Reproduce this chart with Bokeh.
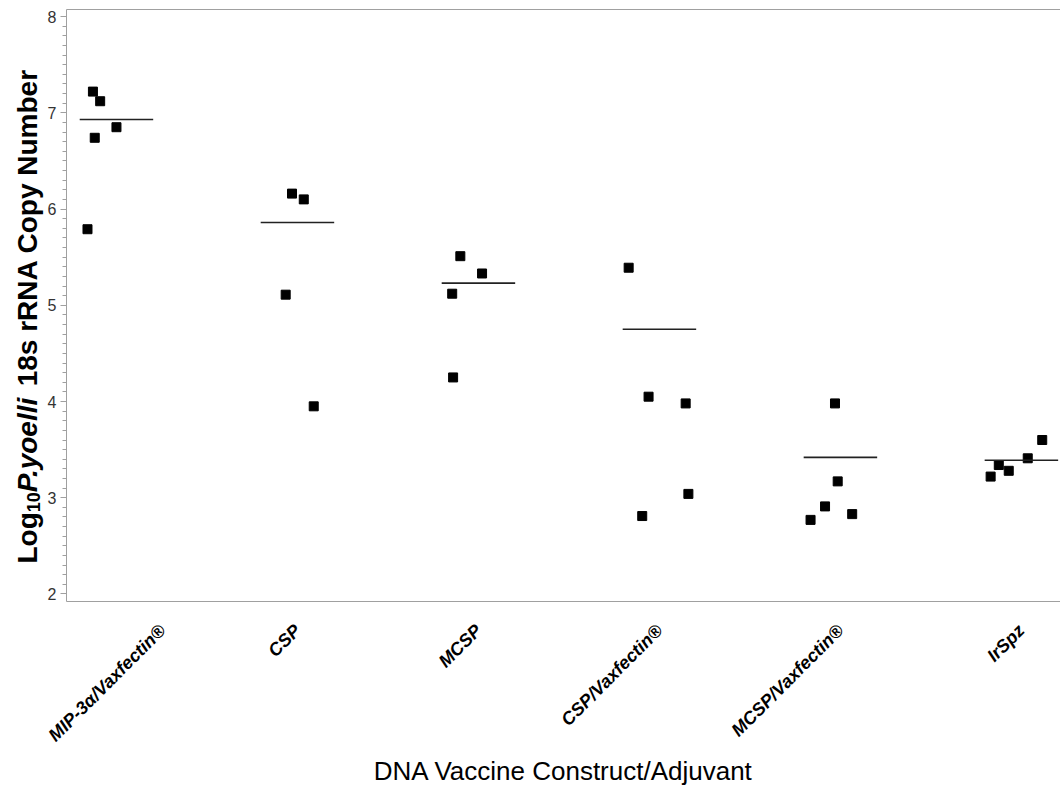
from math import pi
from bokeh.plotting import figure
from bokeh.layouts import row
from bokeh.models import Range1d, FixedTicker, SingleIntervalTicker, LinearAxis
from bokeh.core.properties import value
from bokeh.embed import file_html
from bokeh.resources import INLINE

# ---------------- data ----------------
categories = ["MIP-3\u03b1/Vaxfectin\u00ae", "CSP", "MCSP",
              "CSP/Vaxfectin\u00ae", "MCSP/Vaxfectin\u00ae", "IrSpz"]

mip_vals = [7.22, 7.12, 6.85, 6.74, 5.79]
csp_vals = [6.16, 6.10, 5.11, 3.95]
mcsp_vals = [5.51, 5.33, 5.12, 4.25]
cspv_vals = [5.39, 4.05, 3.98, 3.04, 2.81]
mcspv_vals = [3.98, 3.17, 2.91, 2.83, 2.77]
irspz_vals = [3.60, 3.41, 3.34, 3.28, 3.22]

# horizontal jitter of each point (category units)
mip_jit = [-0.13, -0.09, 0.00, -0.12, -0.16]
csp_jit = [-0.03, 0.035, -0.065, 0.09]
mcsp_jit = [-0.10, 0.02, -0.145, -0.14]
cspv_jit = [-0.17, -0.06, 0.145, 0.16, -0.095]
mcspv_jit = [-0.03, -0.015, -0.085, 0.065, -0.165]
irspz_jit = [0.115, 0.035, -0.125, -0.07, -0.17]

group_means = [6.93, 5.86, 5.23, 4.75, 3.42, 3.39]

x_title = "DNA Vaccine Construct/Adjuvant"
y_title_parts = ["Log", "10", "P.yoelli", "18s rRNA Copy Number"]

# ---------------- build ----------------
groups = [mip_vals, csp_vals, mcsp_vals, cspv_vals, mcspv_vals, irspz_vals]
jits = [mip_jit, csp_jit, mcsp_jit, cspv_jit, mcspv_jit, irspz_jit]
xs, ys = [], []
for i, (vals, jit) in enumerate(zip(groups, jits)):
    for v, j in zip(vals, jit):
        xs.append(i + j)
        ys.append(v)

TW = 44           # width of the strip holding the y title
W, H = 1060, 810
FL, FT = 66, 9
FH = 592
FB = H - FT - FH
X0, X1 = -0.276, 5.216
Y0, Y1 = 1.922, 8.073

GRAY = "#a0a0a0"

p = figure(width=W - TW, height=H, output_backend="svg", toolbar_location=None,
           x_range=Range1d(X0, X1), y_range=Range1d(Y0, Y1),
           x_axis_type=None, y_axis_type=None,
           min_border_left=FL - TW, min_border_right=0, min_border_top=FT,
           min_border_bottom=FB)
p.outline_line_color = None
p.xgrid.visible = False
p.ygrid.visible = False
p.background_fill_color = "white"
p.border_fill_color = "white"

# y axis
yax = LinearAxis(ticker=SingleIntervalTicker(interval=1, num_minor_ticks=10))
yax.axis_line_color = GRAY
yax.major_tick_line_color = GRAY
yax.minor_tick_line_color = GRAY
yax.major_tick_out = 6
yax.major_tick_in = 0
yax.minor_tick_out = 4
yax.minor_tick_in = 0
yax.major_label_text_font = "Liberation Sans"
yax.major_label_text_font_size = "16px"
yax.major_label_text_color = "#333333"
yax.major_label_standoff = 4
p.add_layout(yax, "left")

# x axis
xax = LinearAxis(ticker=FixedTicker(ticks=list(range(len(categories)))))
xax.major_label_overrides = {i: c for i, c in enumerate(categories)}
xax.major_label_orientation = pi / 4
xax.axis_line_color = GRAY
xax.major_tick_line_color = None
xax.major_tick_out = 0
xax.major_tick_in = 0
xax.minor_tick_line_color = None
xax.major_label_text_font = "Liberation Sans"
xax.major_label_text_font_size = "18px"
xax.major_label_text_font_style = "bold italic"
xax.major_label_text_color = "black"
xax.major_label_standoff = 26
xax.axis_label = x_title
xax.axis_label_text_font = "Liberation Sans"
xax.axis_label_text_font_size = "26px"
xax.axis_label_text_font_style = "normal"
xax.axis_label_text_color = "black"
xax.axis_label_standoff = 0
p.add_layout(xax, "below")

# top frame line
top = LinearAxis(ticker=FixedTicker(ticks=[]))
top.axis_line_color = GRAY
top.major_tick_out = 0
top.major_tick_in = 0
top.minor_tick_out = 0
top.minor_tick_in = 0
top.major_label_standoff = 0
top.major_tick_line_color = None
top.minor_tick_line_color = None
p.add_layout(top, "above")

# points and mean lines
p.scatter(xs, ys, marker="square", size=9, color="black")
cx = list(range(len(categories)))
p.segment(x0=[c - 0.203 for c in cx], x1=[c + 0.203 for c in cx],
          y0=group_means, y1=group_means, line_color="#222222", line_width=1.6)

# ---------------- y title strip (subscript + italic pieces) ----------------
# its frame is made to coincide with the main frame (same top/bottom borders)
t = figure(width=TW, height=H, output_backend="svg", toolbar_location=None,
           x_range=Range1d(0, TW), y_range=Range1d(0, FH),
           x_axis_type=None, y_axis_type=None,
           min_border_left=0, min_border_right=0,
           min_border_top=FT, min_border_bottom=FB)
t.outline_line_color = None
t.xgrid.visible = False
t.ygrid.visible = False
t.border_fill_color = "white"
t.background_fill_color = "white"

AW = {"L": 611, "o": 611, "g": 611, "1": 556, "0": 556, "P": 667, ".": 278,
      "y": 556, "e": 556, "l": 278, "i": 278, " ": 278, "8": 556, "s": 556,
      "r": 389, "R": 722, "N": 722, "A": 722, "C": 722, "p": 611, "u": 611,
      "m": 889, "b": 611}

def tw(s, size):
    return sum(AW.get(ch, 600) for ch in s) * size / 1000.0

FS = 28
SUB = 18
base_x = 27
pos = 563  # canvas y (from top) where the title starts
styles = [(FS, "bold", 0, 0.0), (SUB, "bold", 6, 0.0),
          (FS, "bold italic", 0, tw(" ", FS)), (FS, "bold", 0, 0.0)]
for txt, (sz, style, shift, gap) in zip(y_title_parts, styles):
    t.text(x=[base_x + shift], y=[FT + FH - pos], text=[txt], angle=pi / 2,
           text_font=value("Liberation Sans"), text_font_size=value(f"{sz}px"),
           text_font_style=value(style), text_color="black",
           text_align="left", text_baseline="alphabetic")
    pos -= tw(txt, sz) + gap

layout = row(t, p)
open("out.html", "w").write(file_html(layout, INLINE))
